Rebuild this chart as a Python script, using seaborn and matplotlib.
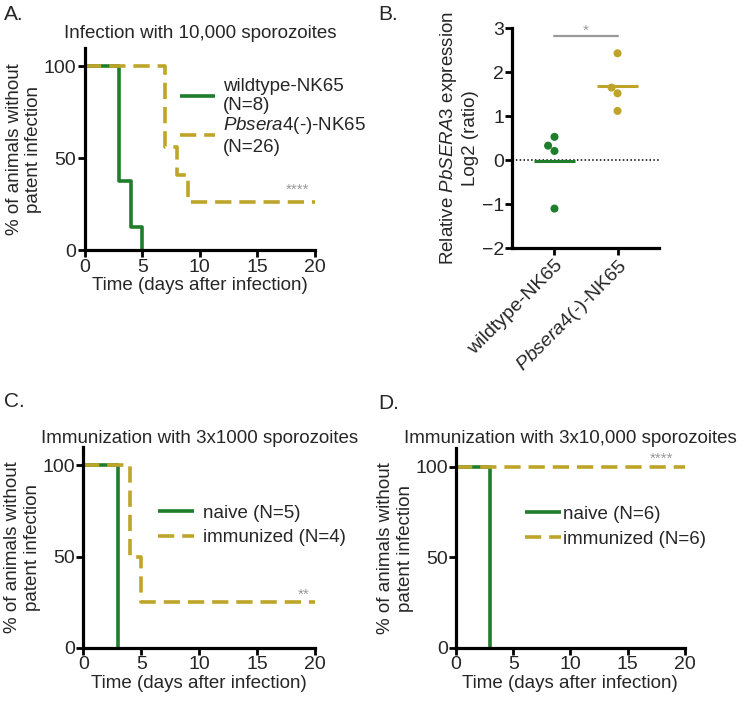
import numpy as np
import pandas as pd
import matplotlib
matplotlib.use("Agg")
import matplotlib.pyplot as plt
import seaborn as sns

sns.set_theme(style="ticks")
plt.rcParams['font.family'] = ['Liberation Sans', 'DejaVu Sans']
plt.rcParams['mathtext.fontset'] = 'custom'
plt.rcParams['mathtext.it'] = 'Liberation Sans:italic'
plt.rcParams['mathtext.rm'] = 'Liberation Sans'

GREEN = "#1f7d2b"
GOLD = "#bea52a"
GRAY = "#9a9a9a"

# ---------------- data ----------------
# Panel A: survival (Kaplan-Meier style)
a_wt_time = [0, 3, 4, 5]
a_wt_surv = [100, 37.5, 12.5, 0]
a_ko_time = [0, 7, 8, 9, 20]
a_ko_surv = [100, 56, 41, 26, 26]
a_labels = ["wildtype-NK65\n(N=8)", "$\\mathit{Pbsera4}$(-)-NK65\n(N=26)"]

# Panel B: relative expression (log2 ratio)
b_categories = ["wildtype-NK65", "$\\mathit{Pbsera4(}$-$\\mathit{)}$-NK65"]
b_wt_values = [0.53, 0.33, 0.21, -1.10]
b_ko_values = [2.43, 1.65, 1.52, 1.12]

# Panel C
c_naive_time = [0, 3]
c_naive_surv = [100, 0]
c_imm_time = [0, 4, 5, 20]
c_imm_surv = [100, 50, 25, 25]
c_labels = ["naive (N=5)", "immunized (N=4)"]

# Panel D
d_naive_time = [0, 3]
d_naive_surv = [100, 0]
d_imm_time = [0, 20]
d_imm_surv = [100, 100]
d_labels = ["naive (N=6)", "immunized (N=6)"]

FS = 13.5
TFS = 14

fig = plt.figure(figsize=(7.5, 7.05), dpi=100)


def style_axes(ax):
    for s in ["top", "right"]:
        ax.spines[s].set_visible(False)
    for s in ["left", "bottom"]:
        ax.spines[s].set_linewidth(2.3)
        ax.spines[s].set_color("black")
    ax.tick_params(width=2.0, length=5, labelsize=TFS, color="black", pad=1)


def survival_panel(ax, t1, s1, t2, s2, labels, title, star, star_xy, leg_anchor,
                   title_pad, spacing, textpad):
    df = pd.concat([
        pd.DataFrame({"time": t1, "surv": s1, "group": labels[0]}),
        pd.DataFrame({"time": t2, "surv": s2, "group": labels[1]}),
    ])
    sns.lineplot(data=df, x="time", y="surv", hue="group", style="group",
                 hue_order=labels, style_order=labels,
                 palette=[GREEN, GOLD], dashes=[(1, 0), (4.5, 2.2)],
                 drawstyle="steps-post", linewidth=2.6, ax=ax, estimator=None,
                 sort=False)
    style_axes(ax)
    ax.set_xlim(0, 20)
    ax.set_ylim(0, 110)
    ax.set_xticks([0, 5, 10, 15, 20])
    ax.set_yticks([0, 50, 100])
    ax.set_xlabel("Time (days after infection)", fontsize=FS, labelpad=1)
    ax.set_ylabel("% of animals without\npatent infection", fontsize=FS, labelpad=1)
    ax.set_title(title, fontsize=FS, pad=title_pad)
    ax.text(star_xy[0], star_xy[1], star, color=GRAY, fontsize=11, ha="center", va="center")
    leg = ax.legend(loc="upper left", bbox_to_anchor=leg_anchor, frameon=False,
                    fontsize=FS, handlelength=1.9, handletextpad=textpad,
                    labelspacing=spacing, borderaxespad=0)
    for line in leg.get_lines():
        line.set_linewidth(2.6)


# Panel A
axA = fig.add_axes([0.113, 0.645, 0.307, 0.287])
survival_panel(axA, a_wt_time, a_wt_surv, a_ko_time, a_ko_surv, a_labels,
               "Infection with 10,000 sporozoites", "****", (18.5, 33),
               (0.38, 0.89), 7, 0.05, 0.4)

# Panel B
axB = fig.add_axes([0.683, 0.648, 0.195, 0.312])
dfB = pd.concat([
    pd.DataFrame({"group": b_categories[0], "value": b_wt_values}),
    pd.DataFrame({"group": b_categories[1], "value": b_ko_values}),
])
axB.axhline(0, color="black", linestyle=(0, (1, 1.5)), linewidth=1.1, zorder=1)
sns.swarmplot(data=dfB, x="group", y="value", hue="group", order=b_categories,
              hue_order=b_categories, palette=[GREEN, GOLD], size=5.8,
              legend=False, ax=axB, zorder=3)
for i, vals in enumerate([b_wt_values, b_ko_values]):
    axB.hlines(np.mean(vals), i - 0.33, i + 0.33, color=[GREEN, GOLD][i], linewidth=2.2, zorder=2)
style_axes(axB)
axB.set_xlim(-0.67, 1.65)
axB.set_ylim(-2, 3)
axB.set_yticks([-2, -1, 0, 1, 2, 3])
axB.set_xlabel("")
axB.set_ylabel("Relative $\\mathit{PbSERA3}$ expression\nLog2 (ratio)", fontsize=FS, labelpad=2)
for lab in axB.get_xticklabels():
    lab.set_rotation(45)
    lab.set_ha("right")
    lab.set_rotation_mode("anchor")
axB.plot([0, 1], [2.82, 2.82], color=GRAY, linewidth=1.6)
axB.text(0.5, 2.95, "*", color=GRAY, fontsize=11, ha="center", va="center")

# Panel C
axC = fig.add_axes([0.111, 0.081, 0.309, 0.285])
survival_panel(axC, c_naive_time, c_naive_surv, c_imm_time, c_imm_surv, c_labels,
               "Immunization with 3x1000 sporozoites", "**", (19.0, 29),
               (0.29, 0.75), 2, 0.4, 0.5)

# Panel D
axD = fig.add_axes([0.608, 0.081, 0.305, 0.283])
survival_panel(axD, d_naive_time, d_naive_surv, d_imm_time, d_imm_surv, d_labels,
               "Immunization with 3x10,000 sporozoites", "****", (18.0, 104),
               (0.27, 0.75), 4, 0.4, 0.1)

# Panel letters
for x, y, t in [(0.005, 0.98, "A."), (0.505, 0.98, "B."), (0.005, 0.43, "C."), (0.505, 0.428, "D.")]:
    fig.text(x, y, t, fontsize=15, ha="left", va="center")

fig.savefig("out.png", dpi=100)
